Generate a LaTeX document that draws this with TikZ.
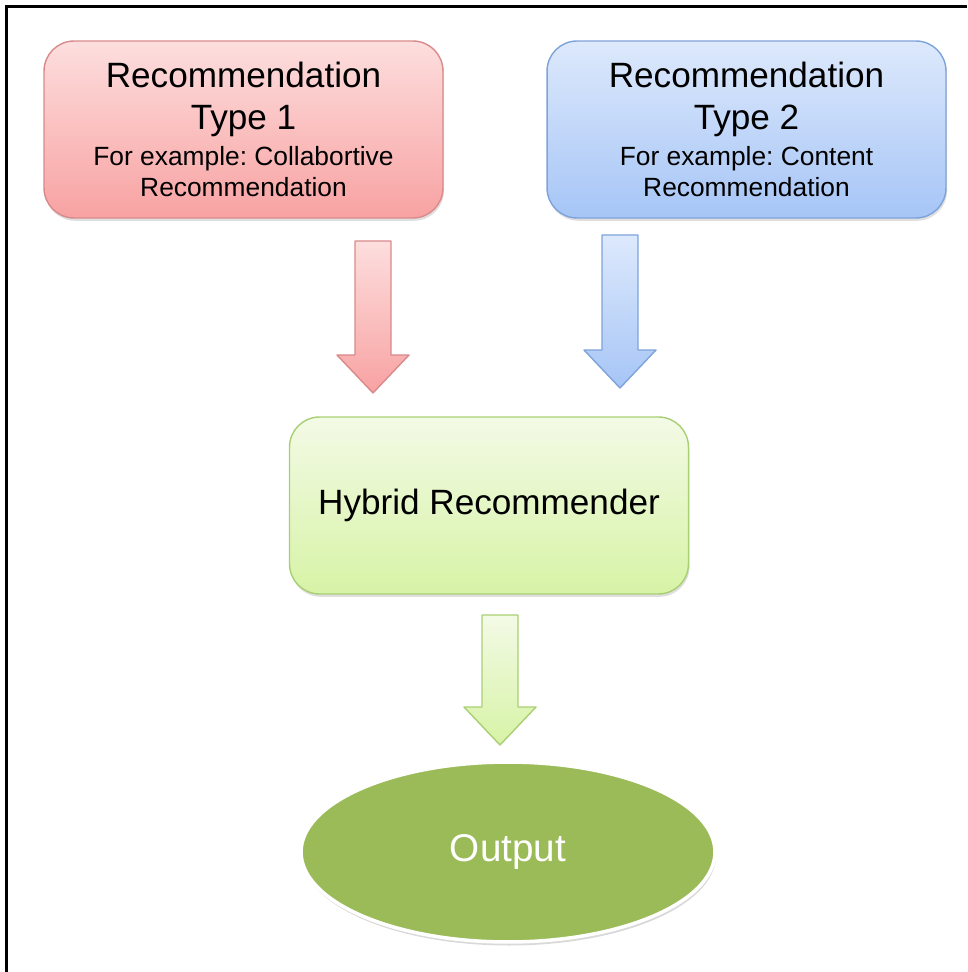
\documentclass[tikz,border=0pt]{standalone}
\usepackage{fontspec}
\setmainfont{Liberation Sans}
\usepackage{xcolor}
\usetikzlibrary{shapes.geometric,shadows}
\frenchspacing

\definecolor{redtop}{HTML}{FDDEDE}
\definecolor{redbot}{HTML}{F8A2A2}
\definecolor{redline}{HTML}{D98A8A}
\definecolor{bluetop}{HTML}{DDE9FC}
\definecolor{bluebot}{HTML}{A6C5F6}
\definecolor{blueline}{HTML}{7EA3DA}
\definecolor{greentop}{HTML}{F3FAE6}
\definecolor{greenbot}{HTML}{D7F3A6}
\definecolor{greenline}{HTML}{A9CF73}
\definecolor{outgreen}{HTML}{9BBB59}

\newcommand{\bigtxt}{\fontsize{20}{24}\selectfont}
\newcommand{\smalltxt}{\fontsize{15}{17}\selectfont}

% block arrow: style, x of centre, y of top, y of tip
\newcommand{\blockarr}[4]{%
  \draw[#1] (#2-18,#3) -- (#2+18,#3) -- (#2+18,#4-38) -- (#2+36,#4-38)
    -- (#2,#4) -- (#2-36,#4-38) -- (#2-18,#4-38) -- cycle;}

\begin{document}
\begin{tikzpicture}[
  x=0.02cm, y=-0.02cm,
  recbox/.style={rectangle, rounded corners=0.6cm, line width=0.8pt, minimum width=7.98cm, minimum height=3.54cm, align=center, font=\bigtxt,
    drop shadow={opacity=0.25, shadow xshift=0.6pt, shadow yshift=-1.6pt}},
  outnode/.style={ellipse, minimum width=8.28cm, minimum height=3.6cm, fill=outgreen, draw=white, line width=2pt, text=white,
    font=\fontsize{22}{26}\selectfont, drop shadow={opacity=0.3, shadow xshift=0.6pt, shadow yshift=-2pt}},
  redarrow/.style={draw=redline, line width=0.8pt, top color=redtop, bottom color=redbot, line join=round},
  bluearrow/.style={draw=blueline, line width=0.8pt, top color=bluetop, bottom color=bluebot, line join=round},
  greenarrow/.style={draw=greenline, line width=0.8pt, top color=greentop, bottom color=greenbot, line join=round}
]
\useasboundingbox (0,0) rectangle (967,972);

% frame
\draw[line width=1.7pt] (6.5,972) -- (6.5,6.5) -- (967,6.5);

% Inputs
\node[recbox, draw=redline, top color=redtop, bottom color=redbot] (type1) at (243.5,129.5)
  {Recommendation\\Type 1\\[-3.5pt]\smalltxt For example: Collabortive\\[-6.4pt]\smalltxt Recommendation};
\node[recbox, draw=blueline, top color=bluetop, bottom color=bluebot] (type2) at (746.5,129.5)
  {Recommendation\\Type 2\\[-3.5pt]\smalltxt For example: Content\\[-6.4pt]\smalltxt Recommendation};

% Hybrid
\node[recbox, draw=greenline, top color=greentop, bottom color=greenbot] (hybrid) at (489,505.5) {Hybrid Recommender};

% Output
\node[outnode] (output) at (508,852) {Output};

% Arrows
\blockarr{redarrow}{373}{241}{393}
\blockarr{bluearrow}{620}{235}{388}
\blockarr{greenarrow}{500}{615}{745}

\end{tikzpicture}
\end{document}
